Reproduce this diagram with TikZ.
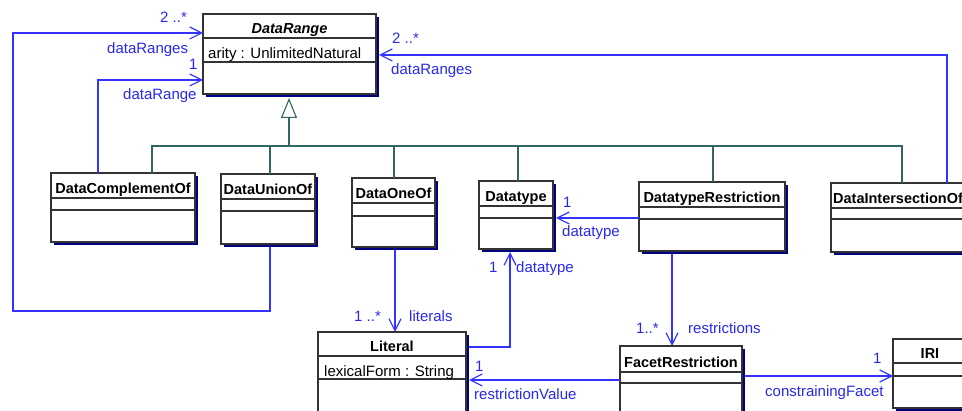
\documentclass[tikz,border=0pt]{standalone}
\usepackage{fontspec}
\setmainfont{Liberation Sans}
\usetikzlibrary{calc,positioning,shadows,arrows.meta}
\definecolor{assocblue}{RGB}{51,51,255}
\definecolor{labelblue}{RGB}{40,40,235}
\definecolor{genteal}{RGB}{47,102,102}
\definecolor{shadownavy}{RGB}{0,0,128}
\newcommand{\umlclass}[8]{%
  \node[cls, minimum width=#4pt, minimum height=#5pt] (#1) at (#2,#3) {};
  \draw[sep] ($(#1.north west)+(0,#6)$) -- ($(#1.north east)+(0,#6)$);
  \draw[sep] ($(#1.north west)+(0,#7)$) -- ($(#1.north east)+(0,#7)$);
  \node[title] at ($(#1.north)+(0,#6-4)$) {#8};
}

\begin{document}
\begin{tikzpicture}[x=1pt, y=-1pt,
	cls/.style={draw=black!80, line width=1.1pt, fill=white, anchor=north west,
		inner sep=0pt, outer sep=0pt, drop shadow={shadow xshift=3pt,
		shadow yshift=-3pt, fill=shadownavy, opacity=1}},
	sep/.style={draw=black!80, line width=1.1pt},
	title/.style={anchor=base, inner sep=0pt, font=\fontsize{14.5}{17}\selectfont\bfseries},
	attr/.style={anchor=base west, inner sep=0pt, font=\fontsize{15}{18}\selectfont},
	lbl/.style={anchor=base west, inner sep=0pt, text=labelblue, font=\fontsize{15}{18}\selectfont},
	assoc/.style={draw=assocblue, line width=1.2pt, -{Straight Barb[length=12pt, width=12pt]}},
	genline/.style={draw=genteal, line width=1.1pt},
	gen/.style={draw=genteal, line width=1.1pt, -{Triangle[open, length=20pt, width=16pt, fill=white]}}]
	\useasboundingbox (0,0) rectangle (962,411);
	\clip (0,0) rectangle (962,411);
	\umlclass{dr}{203}{14}{173}{80}{24}{48}{\textit{DataRange}}
	\umlclass{dco}{51}{173}{144}{69}{25}{37}{DataComplementOf}
	\umlclass{duo}{221}{174}{94}{70}{25}{37}{DataUnionOf}
	\umlclass{doo}{352}{178}{83}{69}{25}{38}{DataOneOf}
	\umlclass{dt}{479}{181}{74}{68}{25}{37}{Datatype}
	\umlclass{dtr}{639}{182}{146}{69}{25}{37}{DatatypeRestriction}
	\umlclass{dio}{831}{183}{134}{69}{25}{36}{DataIntersectionOf}
	\umlclass{lit}{318}{332}{148}{100}{24}{47}{Literal}
	\umlclass{fr}{620}{346}{122}{100}{26}{37}{FacetRestriction}
	\umlclass{iri}{893}{339}{74}{69}{24}{37}{IRI}
	\node[attr] (drattr) at ($(dr.north west)+(5,44.5)$) {arity : UnlimitedNatural};
	\node[attr] (litattr) at ($(lit.north west)+(6,44.5)$) {lexicalForm : String};
	\coordinate (bus) at (289,146);
	\coordinate (loop) at (13,311);
	\draw[gen] (bus) -- ([xshift=-0.5pt,yshift=-4pt]dr.south);
	\draw[genline] ([xshift=29pt]dco.north) |- (bus);
	\foreach \cl/\s in {duo/2,doo/0.5,dt/2,dtr/1,dio/4}
		\draw[genline] ([xshift=\s pt]\cl.north) |- (bus);
	\draw[assoc] ([xshift=2pt,yshift=-3pt]duo.south) |- (loop) |- ([yshift=21pt]dr.west);
	\draw[assoc] ([xshift=-25pt]dco.north) |- ([yshift=-26pt]dr.west);
	\draw[assoc] ([xshift=-18pt]dio.north east) |- ([xshift=3pt,yshift=-1pt]dr.east);
	\draw[assoc] ([xshift=1.5pt,yshift=-3pt]doo.south) -- ([xshift=1.5pt]doo.south |- lit.north);
	\draw[assoc] ([xshift=3pt,yshift=35pt]lit.east) -| ([xshift=-6pt,yshift=-3pt]dt.south);
	\draw[assoc] ([yshift=-1.5pt]dtr.west) -- ([xshift=3pt,yshift=-3pt]dt.east);
	\draw[assoc] ([xshift=-40pt,yshift=-3pt]dtr.south) -- ([xshift=-9pt]fr.north);
	\draw[assoc] ([yshift=16pt]fr.west) -- ([xshift=3pt,yshift=2pt]lit.east);
	\draw[assoc] ([xshift=3pt,yshift=20pt]fr.east) -- ([yshift=-2.5pt]iri.west);
	\node[lbl] at (160,23) {2 ..*};
	\node[lbl] at (107,53.5) {dataRanges};
	\node[lbl] at (189,70) {1};
	\node[lbl] at (123,100) {dataRange};
	\node[lbl] at (392,44) {2 ..*};
	\node[lbl] at (391,75) {dataRanges};
	\node[lbl] at (354,321.5) {1 ..*};
	\node[lbl] at (409,321.5) {literals};
	\node[lbl] at (489,272.5) {1};
	\node[lbl] at (516,272.5) {datatype};
	\node[lbl] at (563,208) {1};
	\node[lbl] at (562,237) {datatype};
	\node[lbl] at (636,334) {1..*};
	\node[lbl] at (688,334) {restrictions};
	\node[lbl] at (475,371.5) {1};
	\node[lbl] at (474,400) {restrictionValue};
	\node[lbl] at (873,364) {1};
	\node[lbl] at (765,396.5) {constrainingFacet};
\end{tikzpicture}
\end{document}
